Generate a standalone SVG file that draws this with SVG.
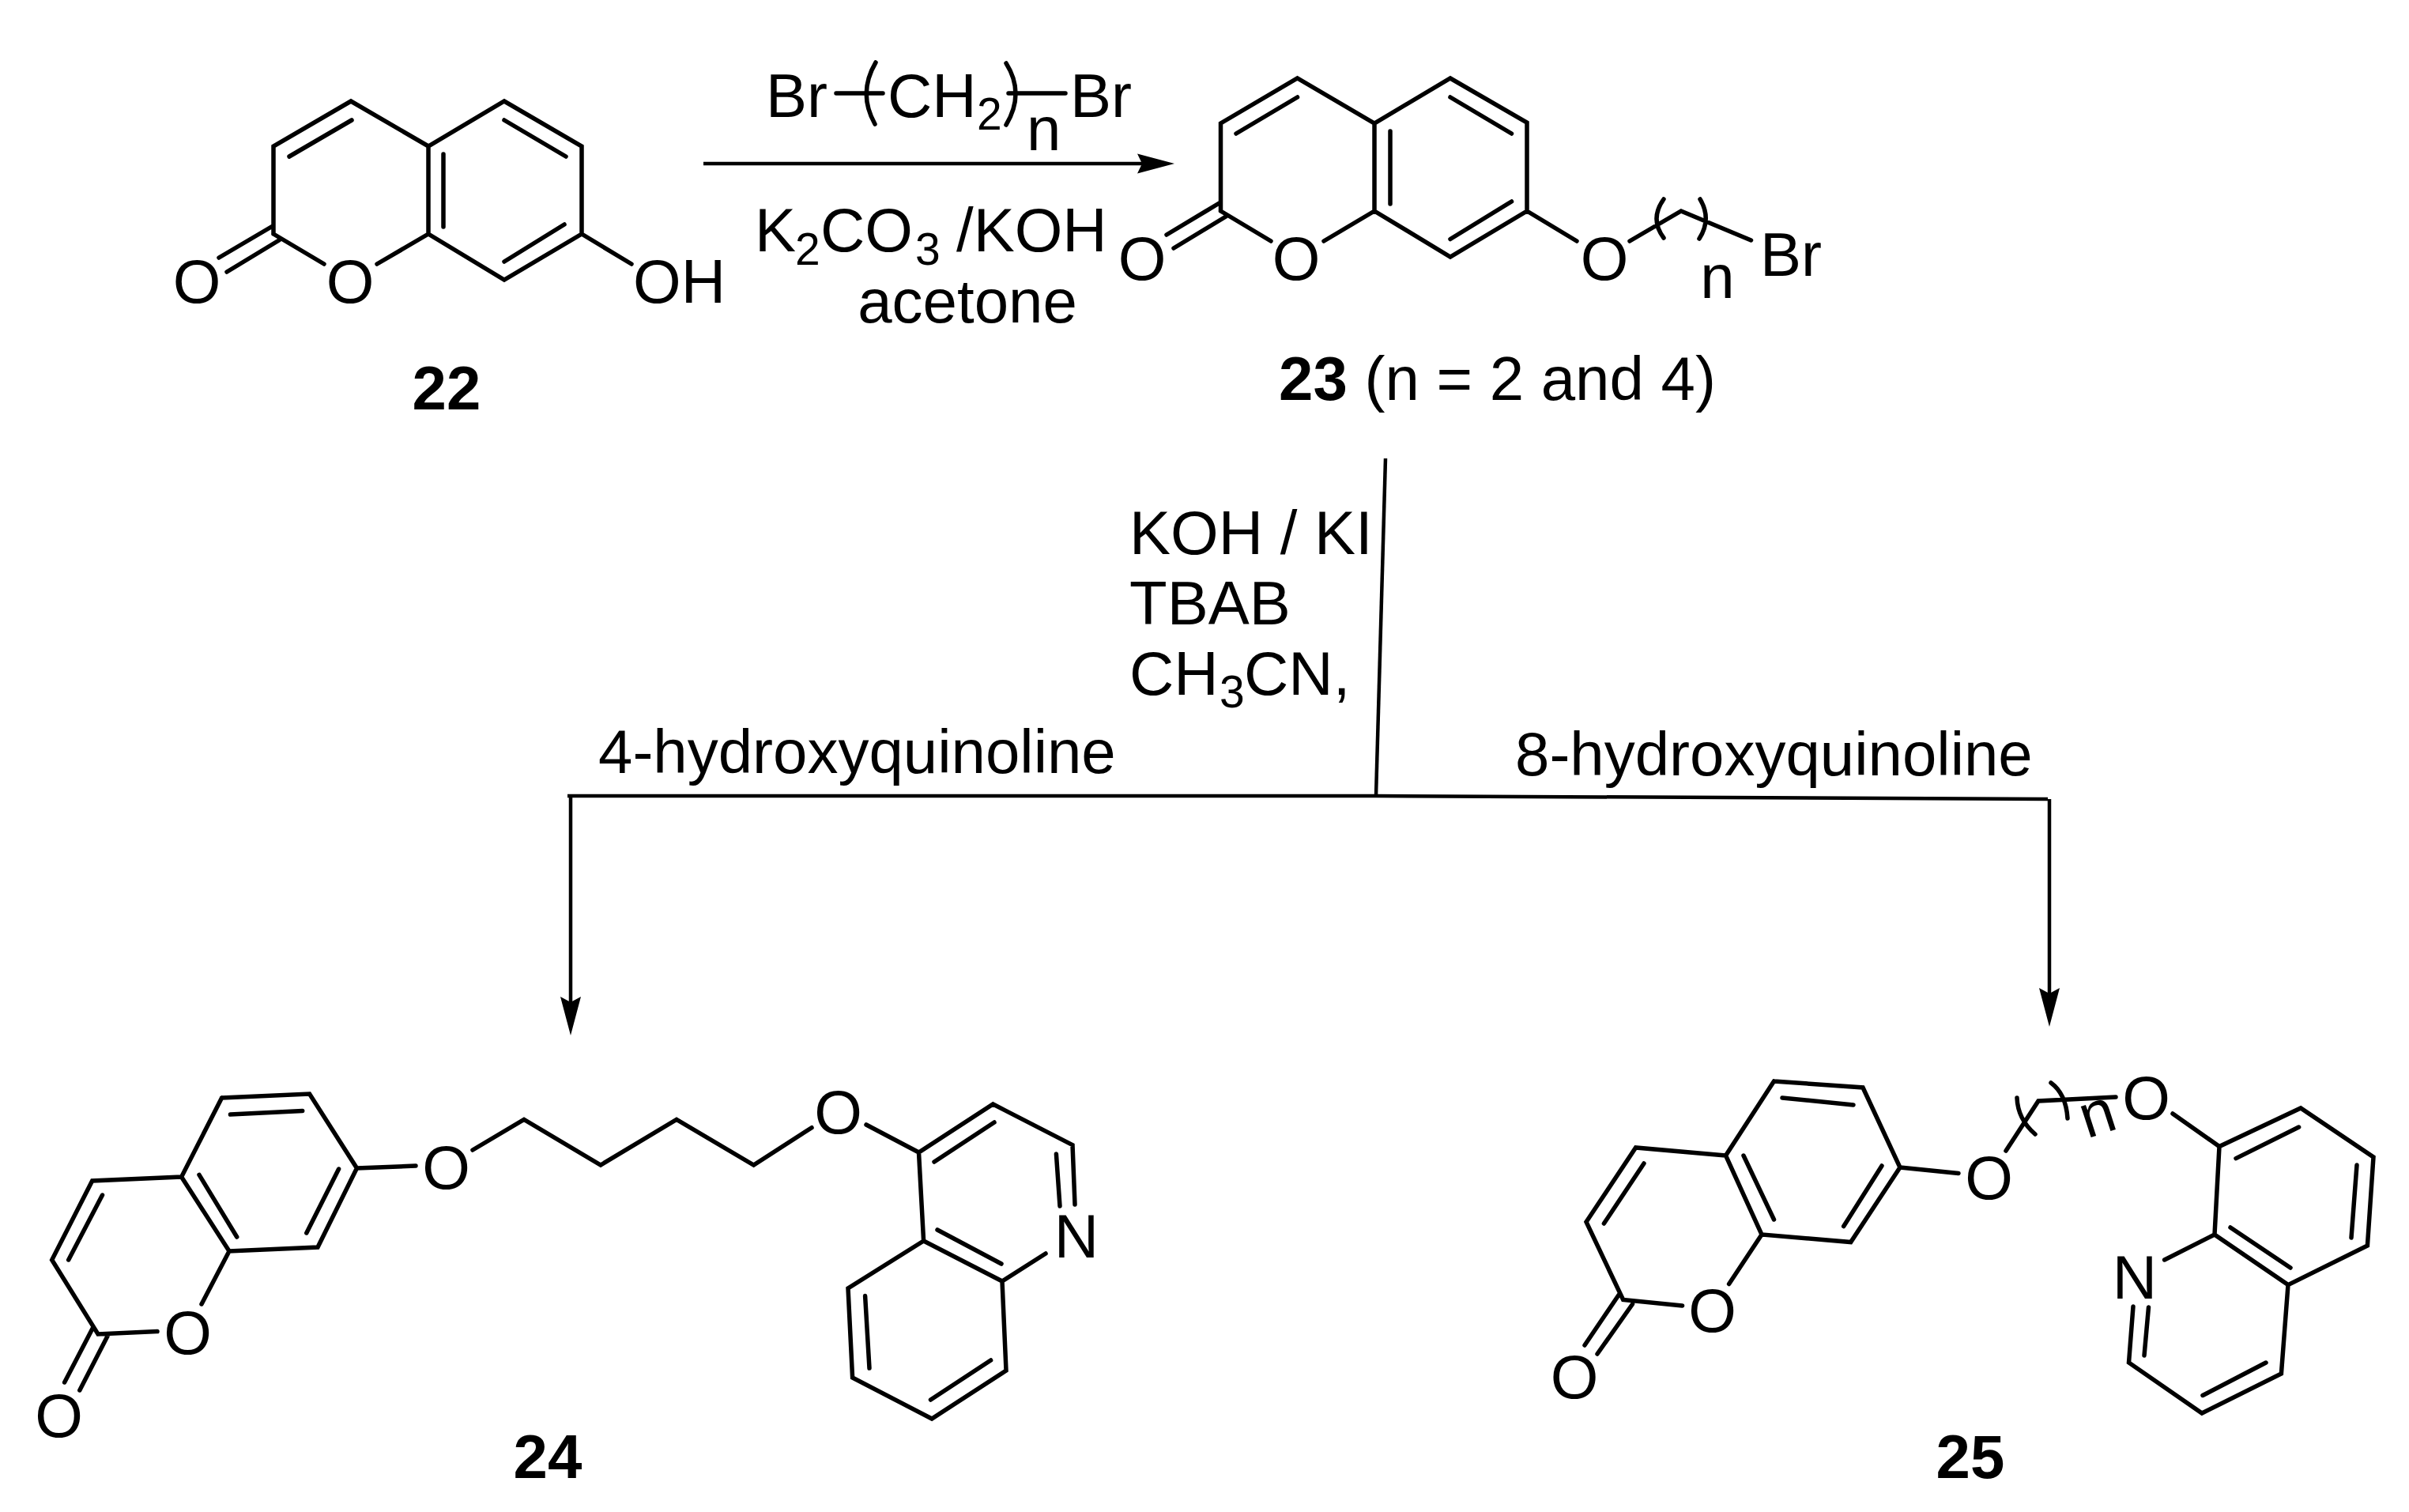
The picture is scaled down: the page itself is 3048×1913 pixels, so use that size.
<svg xmlns="http://www.w3.org/2000/svg" width="3048" height="1913" viewBox="0 0 3048 1913">
<style>
text{font-family:"Liberation Sans",Arial,sans-serif;font-size:78px;fill:#000}
.a{text-anchor:middle}
.b{font-weight:bold}
.s{font-size:57px}
.bond{fill:none;stroke:#000;stroke-width:5.500;stroke-linecap:round;stroke-linejoin:miter}
.line{fill:none;stroke:#000;stroke-width:4.500}
</style>
<defs>
<marker id="headTop" markerUnits="userSpaceOnUse" markerWidth="50" markerHeight="28" refX="10" refY="14" orient="auto"><path d="M0,1.500L47,14L0,26.500L6,14z" fill="#000"/></marker>
<marker id="headDown" markerUnits="userSpaceOnUse" markerWidth="52" markerHeight="28" refX="10" refY="14" orient="auto"><path d="M0,1L49,14L0,27L7,14z" fill="#000"/></marker>
</defs>
<rect width="3048" height="1913" fill="#fff"/>

<g id="connectors">
<path class="line" d="M890,207H1449" marker-end="url(#headTop)"/>
<path class="line" d="M1753,580L1741,1007"/>
<path class="line" d="M718,1007H1741L2591,1011"/>
<path class="line" d="M722,1009V1271" marker-end="url(#headDown)"/>
<path class="line" d="M2593,1011V1260" marker-end="url(#headDown)"/>
</g>

<g id="compound-22">
<path class="bond" d="M346,296V185L444,128L542,185L638,128L736,185V296L638,354L542,296V185M346,296L410,334M542,296L477,334M736,296L799,334M445,152L366,198M561,195V287M638,152L716,198M714,284L638,331M345,286L277,326M353,304L287,344"/>
<text class="a" x="249" y="383">O</text>
<text class="a" x="443" y="383">O</text>
<text x="801" y="383">OH</text>
<text class="a b" x="565" y="518">22</text>
</g>

<g id="reagents-top">
<path class="bond" d="M1058,118H1117M1276,118H1348M1108,79Q1085,118 1107,157M1273,80Q1297,118 1273,158"/>
<text x="969" y="148">Br</text>
<text x="1123" y="148">CH</text>
<text class="s" x="1236" y="164">2</text>
<text x="1299" y="190">n</text>
<text x="1354" y="148">Br</text>
<text x="955" y="318">K</text>
<text class="s" x="1006" y="335">2</text>
<text x="1038" y="318">CO</text>
<text class="s" x="1158" y="335">3</text>
<text x="1210" y="318">/KOH</text>
<text class="a" x="1224" y="408">acetone</text>
</g>

<g id="compound-23">
<path class="bond" d="M1544.500,267V156L1641.500,99L1739,156L1835,99L1932,155V267L1835,325L1739,267V156M1544.500,267L1608,305M1739,267L1675,305M1932,267L1995,305M2062,305L2127,267L2215.500,304M1641.500,123L1564,169M1759,166V258M1835,123L1912.500,169M1912.500,255L1835,302.500M1542.600,257L1476,297M1551,274L1485,314M2105,252Q2087,277 2105,301M2151,252Q2166,277 2150,302"/>
<text class="a" x="1445" y="354">O</text>
<text class="a" x="1640" y="354">O</text>
<text class="a" x="2030" y="354">O</text>
<text class="a" x="2173" y="377">n</text>
<text x="2227" y="349">Br</text>
<text x="1618" y="506"><tspan class="b">23</tspan> (n = 2 and 4)</text>
</g>

<g id="reagents-middle">
<text x="1429" y="701">KOH / KI</text>
<text x="1429" y="790">TBAB</text>
<text x="1429" y="879">CH</text>
<text class="s" x="1543" y="895">3</text>
<text x="1574" y="879">CN,</text>
<text x="757" y="978">4-hydroxyquinoline</text>
<text x="1917" y="981">8-hydroxyquinoline</text>
</g>

<g id="compound-24">
<path class="bond" d="M280.600,1389L391.600,1384L451.500,1478L402,1578L290,1583L229.600,1489L280.600,1389M229.600,1489L116.700,1494L65.700,1594L124,1688L199,1684.600M290,1583L255,1650M291.500,1410L382.700,1405.500M428.600,1479L387.800,1560M252,1486.400L299.700,1565M129.500,1512L86.700,1594M118,1679L81.600,1749M136,1690.600L100.800,1759M451.500,1478L526,1475M598,1455L663,1416.400L760,1474L856,1416.400L953.600,1474L1027,1426.700M1096,1423L1162.500,1458L1256.400,1397L1357,1448.600L1360,1524M1336.400,1460L1341,1526M1323,1586L1268,1621L1168.600,1570L1162.500,1458M1267,1599L1186,1556M1182,1470L1258,1420M1168.600,1570L1073,1630L1078.600,1743L1179,1795L1273,1734L1268,1621M1094.600,1639.600L1100,1731M1253.600,1721L1177.500,1771"/>
<text class="a" x="237.500" y="1713">O</text>
<text class="a" x="74.500" y="1818">O</text>
<text class="a" x="564.500" y="1504">O</text>
<text class="a" x="1060.500" y="1434">O</text>
<text class="a" x="1362" y="1591">N</text>
<text class="a b" x="693" y="1870">24</text>
</g>

<g id="compound-25">
<path class="bond" d="M2244.500,1368L2357,1376L2404,1477L2341.700,1571.500L2229,1562L2183.500,1462L2244.500,1368M2183.500,1462L2069.600,1452L2007,1546L2053.700,1644.500L2128.600,1652M2229,1562L2187.600,1624.500M2255,1389L2345,1398M2381,1475L2332.700,1551.500M2206,1462L2244.500,1543M2080,1472L2029.400,1548M2048,1638.500L2005,1702M2065.500,1650L2021,1713M2404,1477L2478,1484.500M2538,1456L2579,1393L2677,1388M2552,1389Q2553,1416 2575,1435M2595,1370Q2614,1384 2616,1415M2749,1409L2808,1450.500L2911,1402L3003,1464L2995.400,1576L2895,1625.600L2802,1562L2808,1450.500M2908.600,1426L2829,1465.600M2982,1474L2975,1566M2898,1604L2822,1553M2802,1562L2738.600,1594M2699,1653L2693.500,1724L2786,1788L2886.400,1738L2895,1625.600M2718.500,1654L2713,1715M2867,1724L2787,1765.500"/>
<text class="a" x="2166.500" y="1685">O</text>
<text class="a" x="1992" y="1769">O</text>
<text class="a" x="2516.500" y="1517">O</text>
<text class="a" x="2715.500" y="1416">O</text>
<text class="a" x="2701" y="1643">N</text>
<text class="a" x="0" y="0" transform="translate(2655,1415) rotate(-18) translate(0,20)">n</text>
<text class="a b" x="2493" y="1870">25</text>
</g>
</svg>
